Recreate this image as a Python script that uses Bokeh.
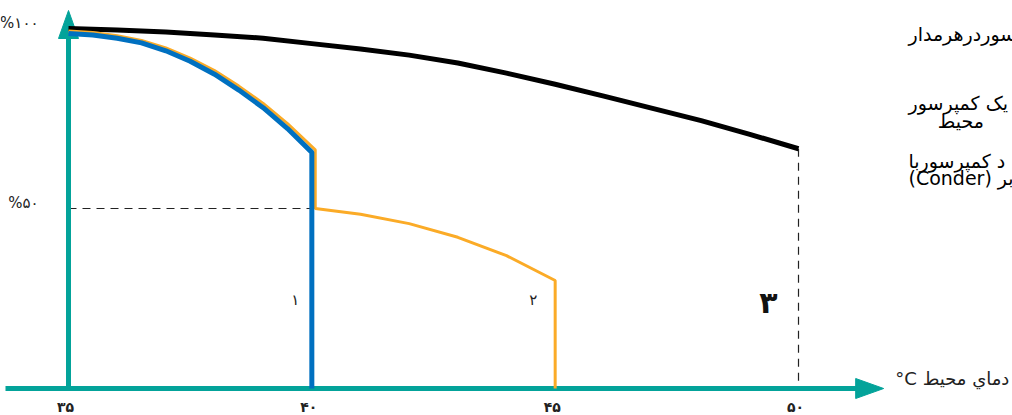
from bokeh.plotting import figure
from bokeh.models import Range1d
from bokeh.core.properties import value
from bokeh.embed import file_html
from bokeh.resources import INLINE

# ---------------- data ----------------
# curve 3 : black (one compressor per circuit)
black_temp = [35, 36, 37, 38, 39, 40, 41, 42, 43, 44, 45, 46, 47, 48, 49, 50]
black_cap = [100, 99.6, 99.0, 98.2, 97.3, 95.8, 94.3, 92.6, 90.4, 87.6, 84.5, 81.2, 77.8, 74.4, 70.6, 66.6]

# curve 1 : blue
blue_temp = [35, 35.5, 36, 36.5, 37, 37.5, 38, 38.5, 39, 39.5, 40, 40]
blue_cap = [98.6, 98.2, 97.3, 96.0, 93.8, 90.9, 87.3, 82.9, 78.0, 72.2, 65.6, 0]

# curve 2 : orange
orange_temp = [35, 35.5, 36, 36.5, 37, 37.5, 38, 38.5, 39, 39.5, 40.07, 40.07, 41, 42, 43, 44, 45, 45]
orange_cap = [99.3, 98.9, 98.0, 96.7, 94.6, 91.8, 88.3, 84.0, 79.2, 73.6, 66.3, 50, 48.4, 45.8, 42.0, 36.9, 30.0, 0]

x_ticks = [35, 40, 45, 50]
x_tick_labels = ["۳۵", "۴۰", "۴۵", "۵۰"]
y_ticks = [100, 50]
y_tick_labels = ["%۱۰۰", "%۵۰"]
curve_labels = ["۱", "۲", "۳"]
x_title = "°C دماي محيط"
side_lines = ["سوردرهرمدار", "یک کمپرسور", "محیط", "د کمپرسوربا", "(Conder) بر"]

# ---------------- layout ----------------
W, H = 1012, 415
PX_PER_DEG = 48.667
PX_PER_PCT = 3.6
X0 = 35 - 68 / PX_PER_DEG
X1 = X0 + W / PX_PER_DEG
Y1 = 388 / PX_PER_PCT
Y0 = Y1 - H / PX_PER_PCT
sx, sy = PX_PER_DEG, PX_PER_PCT

TEAL = "#03a39a"
BLUE = "#0070c0"
ORANGE = "#fbab27"
FONT = value("DejaVu Sans")

p = figure(width=W, height=H, x_range=Range1d(X0, X1), y_range=Range1d(Y0, Y1),
           output_backend="svg", toolbar_location=None, min_border=0)
p.axis.visible = False
p.grid.visible = False
p.outline_line_color = None
p.background_fill_color = "white"

# dashed guides
p.line([x_ticks[0], x_ticks[1]], [y_ticks[1], y_ticks[1]], line_color="#222222",
       line_width=1.2, line_dash="8 6")
p.line([black_temp[-1], black_temp[-1]], [black_cap[-1], 0], line_color="#222222",
       line_width=1.2, line_dash="8 6")

# axes with arrow heads
tip_y = 105.0
tip_x = 51.75
head_len, head_half = 28, 10
p.line([X0 + 5 / sx, tip_x - (head_len - 2) / sx], [0, 0], line_color=TEAL, line_width=5)
p.patch([tip_x, tip_x - head_len / sx, tip_x - head_len / sx],
        [0, head_half / sy, -head_half / sy], fill_color=TEAL, line_color=TEAL)
p.line([x_ticks[0], x_ticks[0]], [0, tip_y - (head_len - 2) / sy], line_color=TEAL, line_width=5)
p.patch([x_ticks[0], x_ticks[0] - head_half / sx, x_ticks[0] + head_half / sx],
        [tip_y, tip_y - head_len / sy, tip_y - head_len / sy], fill_color=TEAL, line_color=TEAL)

# curves
p.line(black_temp, black_cap, line_color="black", line_width=5)
p.line(orange_temp, orange_cap, line_color=ORANGE, line_width=3)
p.line(blue_temp, blue_cap, line_color=BLUE, line_width=5)

# tick labels
p.text(x=x_ticks, y=[0] * len(x_ticks), text=x_tick_labels, x_offset=-3, y_offset=18,
       text_align="center", text_baseline="middle", text_font=FONT,
       text_font_size=value("14px"), text_font_style="bold", text_color="#222222")
p.text(x=[x_ticks[0]] * 2, y=y_ticks, text=y_tick_labels, x_offset=-30, y_offset=-6,
       text_align="right", text_baseline="middle", text_font=FONT,
       text_font_size=value("15px"), text_color="#222222")

# curve labels
p.text(x=[39.66, 44.55], y=[24.7, 24.7], text=curve_labels[:2], text_align="center",
       text_baseline="middle", text_font=FONT, text_font_size=value("15px"), text_color="#222222")
p.text(x=[49.38], y=[23.9], text=curve_labels[2:], text_align="center",
       text_baseline="middle", text_font=FONT, text_font_size=value("30px"),
       text_font_style="bold", text_color="#111111")

# x title
p.text(x=[51.99], y=[0], text=[x_title], y_offset=-10, text_align="left",
       text_baseline="middle", text_font=FONT, text_font_size=value("18px"), text_color="#222222")

# clipped side notes
p.text(x=[52.26, 52.26, 52.86, 52.26, 52.26], y=[98.6, 79.4, 74.4, 63.3, 58.6], text=side_lines,
       text_align="left", text_baseline="middle", text_font=FONT,
       text_font_size=value("19px"), text_color="#000000")

open("out.html", "w").write(file_html(p, INLINE))
